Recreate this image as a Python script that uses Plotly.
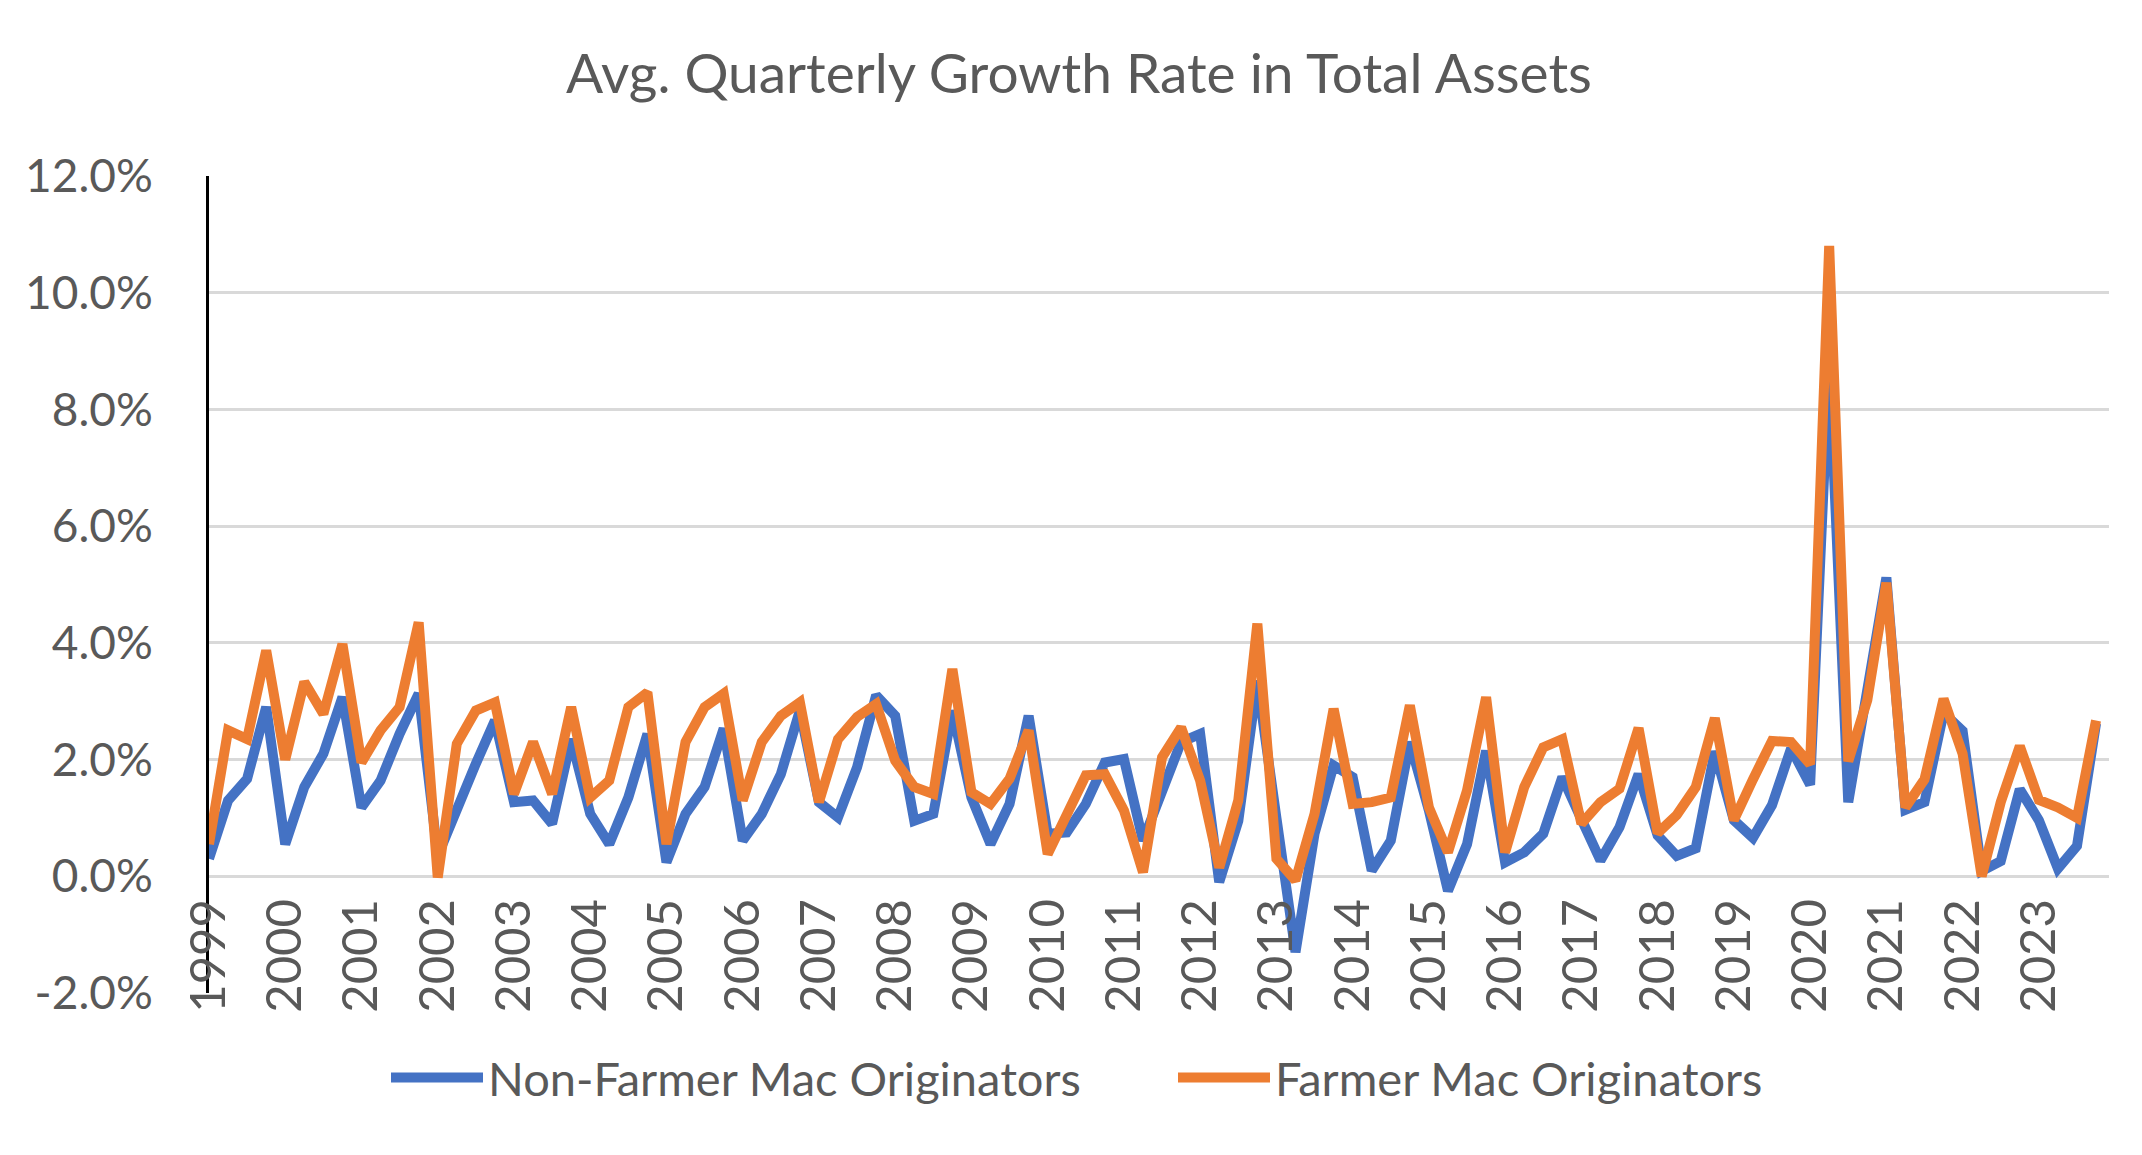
import plotly.graph_objects as go

years = list(range(1999, 2024))
quarters = [f"{y}Q{q}" for y in years for q in range(1, 5)]
tick_vals = [f"{y}Q1" for y in years]
tick_text = [str(y) for y in years]

non_farmer = [
    0.30, 1.30, 1.67, 2.90,
    0.55, 1.53, 2.10, 3.07,
    1.18, 1.64, 2.44, 3.13,
    0.35, 1.18, 1.93, 2.67,
    1.27, 1.30, 0.90, 2.35,
    1.07, 0.55, 1.35, 2.44,
    0.24, 1.07, 1.53, 2.53,
    0.61, 1.07, 1.75, 2.84,
    1.27, 1.01, 1.87, 3.10,
    2.75, 0.95, 1.07, 2.84,
    1.35, 0.55, 1.24, 2.75,
    0.73, 0.75, 1.24, 1.95,
    2.01, 0.61, 1.47, 2.30,
    2.44, -0.10, 0.95, 3.35,
    1.00, -1.30, 0.73, 1.90,
    1.70, 0.10, 0.61, 2.30,
    1.13, -0.25, 0.55, 2.15,
    0.24, 0.41, 0.73, 1.70,
    0.98, 0.27, 0.84, 1.75,
    0.70, 0.35, 0.48, 2.14,
    0.96, 0.66, 1.22, 2.19,
    1.57, 8.80, 1.27, 3.30,
    5.12, 1.14, 1.27, 2.80,
    2.49, 0.09, 0.26, 1.49,
    0.96, 0.13, 0.52, 2.62,
]

farmer = [
    0.55, 2.50, 2.35, 3.87,
    2.00, 3.33, 2.78, 3.98,
    1.95, 2.50, 2.90, 4.35,
    -0.02, 2.27, 2.84, 2.98,
    1.41, 2.30, 1.41, 2.90,
    1.35, 1.64, 2.90, 3.15,
    0.55, 2.30, 2.90, 3.13,
    1.30, 2.30, 2.75, 2.98,
    1.27, 2.35, 2.73, 2.95,
    1.98, 1.53, 1.41, 3.55,
    1.44, 1.24, 1.67, 2.50,
    0.38, 1.07, 1.73, 1.75,
    1.13, 0.07, 2.04, 2.55,
    1.64, 0.15, 1.30, 4.33,
    0.30, -0.07, 1.07, 2.87,
    1.24, 1.27, 1.35, 2.93,
    1.18, 0.41, 1.47, 3.07,
    0.41, 1.53, 2.21, 2.35,
    0.90, 1.27, 1.50, 2.54,
    0.74, 1.05, 1.53, 2.71,
    0.96, 1.66, 2.32, 2.30,
    1.92, 10.80, 1.97, 3.02,
    5.03, 1.18, 1.66, 3.04,
    2.10, 0.00, 1.27, 2.23,
    1.31, 1.18, 1.00, 2.67,
]

y_ticks = [-2, 0, 2, 4, 6, 8, 10, 12]
y_tick_text = ["-2.0%", "0.0%", "2.0%", "4.0%", "6.0%", "8.0%", "10.0%", "12.0%"]

FONT = "Lato"
TXT = "#595959"

fig = go.Figure()
fig.add_trace(go.Scatter(
    x=quarters, y=non_farmer, mode="lines", name="Non-Farmer Mac Originators",
    line=dict(color="#4472C4", width=10),
))
fig.add_trace(go.Scatter(
    x=quarters, y=farmer, mode="lines", name="Farmer Mac Originators",
    line=dict(color="#ED7D31", width=10),
))

W, H = 2142, 1155
L, R, T, B = 201, 2101, 168, 985

fig.update_layout(
    width=W, height=H,
    margin=dict(l=L, r=W - R, t=T, b=H - B, pad=0),
    paper_bgcolor="white", plot_bgcolor="white",
    font=dict(family=FONT, color=TXT, size=46),
    title=dict(
        text="Avg. Quarterly Growth Rate in Total Assets",
        x=0.5, xref="container", xanchor="center",
        y=1 - 66 / H, yref="container", yanchor="middle",
        font=dict(family=FONT, size=55, color=TXT),
    ),
    showlegend=True,
    legend=dict(
        orientation="h",
        x=(378 - L) / (R - L), xanchor="left",
        y=(B - 1070) / (B - T), yanchor="middle",
        font=dict(family=FONT, size=47, color=TXT),
        itemwidth=92,
        entrywidth=680,
    ),
    xaxis=dict(
        type="category",
        categoryorder="array", categoryarray=quarters,
        range=[0, len(quarters) - 1 + 0.68],
        tickmode="array", tickvals=tick_vals, ticktext=tick_text,
        tickangle=-90,
        ticks="", showgrid=False, showline=False, zeroline=False,
        anchor="free", position=(0 - y_ticks[0]) / (y_ticks[-1] - y_ticks[0]),
        ticklabelstandoff=12,
        tickfont=dict(family=FONT, size=49, color=TXT),
    ),
    yaxis=dict(
        range=[y_ticks[0], y_ticks[-1]],
        tickmode="array", tickvals=y_ticks, ticktext=y_tick_text,
        showgrid=True, gridcolor="#D9D9D9", gridwidth=2.5,
        zeroline=False,
        showline=True, linecolor="black", linewidth=3,
        ticks="", ticklabelstandoff=44,
        tickfont=dict(family=FONT, size=46, color=TXT),
    ),
)

fig.write_html("out.html")
